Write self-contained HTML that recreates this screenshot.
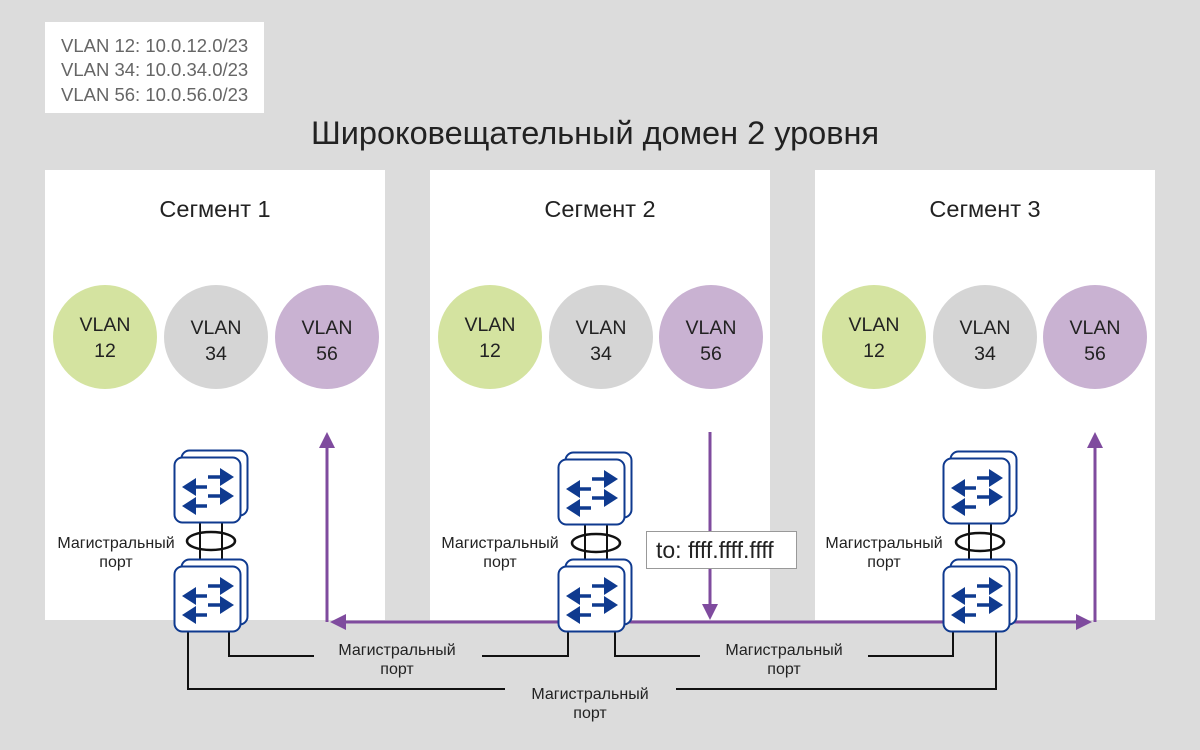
<!DOCTYPE html>
<html><head><meta charset="utf-8"><style>
html,body{margin:0;padding:0;background:#dcdcdc}
svg{display:block}
text{font-family:"Liberation Sans",sans-serif}
</style></head><body>
<svg width="1200" height="750" viewBox="0 0 1200 750" xmlns="http://www.w3.org/2000/svg">
<defs>
<g id="sq">
 <rect x="0.5" y="0.5" width="66" height="65" rx="8" fill="#fff" stroke="#0f3a8f" stroke-width="2"/>
 <g fill="#0f3a8f" stroke="#0f3a8f">
  <line x1="34" y1="20" x2="48" y2="20" stroke-width="3.5"/><polygon points="46,11 60,20 46,29" stroke="none"/>
  <line x1="34" y1="39" x2="48" y2="39" stroke-width="3.5"/><polygon points="46,30 60,39 46,48" stroke="none"/>
  <line x1="20" y1="30" x2="33" y2="30" stroke-width="3.5"/><polygon points="22,21 8,30 22,39" stroke="none"/>
  <line x1="20" y1="49" x2="33" y2="49" stroke-width="3.5"/><polygon points="22,40 8,49 22,58" stroke="none"/>
 </g>
</g>
<g id="sw">
 <rect x="7.5" y="-6.5" width="66" height="65" rx="8" fill="#fff" stroke="#0f3a8f" stroke-width="2"/>
 <use href="#sq"/>
</g>
</defs>
<rect width="1200" height="750" fill="#dcdcdc"/>
<rect x="45" y="22" width="219" height="91" fill="#fff"/>
<g font-size="18.5" fill="#666">
<text x="61" y="52">VLAN 12: 10.0.12.0/23</text>
<text x="61" y="76">VLAN 34: 10.0.34.0/23</text>
<text x="61" y="101">VLAN 56: 10.0.56.0/23</text>
</g>
<text x="595" y="144" font-size="32.5" text-anchor="middle" fill="#222">Широковещательный домен 2 уровня</text>

<rect x="45" y="170" width="340" height="450" fill="#fff"/>
<rect x="430" y="170" width="340" height="450" fill="#fff"/>
<rect x="815" y="170" width="340" height="450" fill="#fff"/>
<g font-size="23.5" text-anchor="middle" fill="#222">
<text x="215" y="217">Сегмент 1</text>
<text x="600" y="217">Сегмент 2</text>
<text x="985" y="217">Сегмент 3</text>
</g>

<g font-size="19.5" text-anchor="middle" fill="#222">
<g>
<circle cx="105" cy="337" r="52" fill="#d4e3a0"/><text x="105" y="331">VLAN</text><text x="105" y="357">12</text>
<circle cx="216" cy="337" r="52" fill="#d5d5d5"/><text x="216" y="334">VLAN</text><text x="216" y="360">34</text>
<circle cx="327" cy="337" r="52" fill="#c9b2d2"/><text x="327" y="334">VLAN</text><text x="327" y="360">56</text>
</g>
<g>
<circle cx="490" cy="337" r="52" fill="#d4e3a0"/><text x="490" y="331">VLAN</text><text x="490" y="357">12</text>
<circle cx="601" cy="337" r="52" fill="#d5d5d5"/><text x="601" y="334">VLAN</text><text x="601" y="360">34</text>
<circle cx="711" cy="337" r="52" fill="#c9b2d2"/><text x="711" y="334">VLAN</text><text x="711" y="360">56</text>
</g>
<g>
<circle cx="874" cy="337" r="52" fill="#d4e3a0"/><text x="874" y="331">VLAN</text><text x="874" y="357">12</text>
<circle cx="985" cy="337" r="52" fill="#d5d5d5"/><text x="985" y="334">VLAN</text><text x="985" y="360">34</text>
<circle cx="1095" cy="337" r="52" fill="#c9b2d2"/><text x="1095" y="334">VLAN</text><text x="1095" y="360">56</text>
</g>
</g>

<g stroke="#111" stroke-width="2" fill="none">
<polyline points="229,632 229,656 314,656"/>
<polyline points="482,656 568,656 568,632"/>
<polyline points="615,632 615,656 700,656"/>
<polyline points="868,656 953,656 953,632"/>
<polyline points="188,632 188,689 505,689"/>
<polyline points="676,689 996,689 996,632"/>
<line x1="200" y1="520" x2="200" y2="570"/><line x1="222" y1="520" x2="222" y2="570"/>
<line x1="585" y1="522" x2="585" y2="570"/><line x1="607" y1="522" x2="607" y2="570"/>
<line x1="969" y1="522" x2="969" y2="570"/><line x1="991" y1="522" x2="991" y2="570"/>
<ellipse cx="211" cy="541" rx="24" ry="9" stroke-width="2.5"/>
<ellipse cx="596" cy="543" rx="24" ry="9" stroke-width="2.5"/>
<ellipse cx="980" cy="542" rx="24" ry="9" stroke-width="2.5"/>
</g>

<g stroke="#7f4b9e" stroke-width="3" fill="#7f4b9e">
<line x1="340" y1="622" x2="1080" y2="622"/>
<polygon points="330,622 346,614 346,630" stroke="none"/>
<polygon points="1092,622 1076,614 1076,630" stroke="none"/>
<line x1="327" y1="622" x2="327" y2="445"/>
<polygon points="327,432 319,448 335,448" stroke="none"/>
<line x1="1095" y1="622" x2="1095" y2="445"/>
<polygon points="1095,432 1087,448 1103,448" stroke="none"/>
<line x1="710" y1="432" x2="710" y2="608"/>
<polygon points="710,620 702,604 718,604" stroke="none"/>
</g>

<use href="#sw" x="174" y="457"/>
<use href="#sw" x="174" y="566"/>
<use href="#sw" x="558" y="459"/>
<use href="#sw" x="558" y="566"/>
<use href="#sw" x="943" y="458"/>
<use href="#sw" x="943" y="566"/>

<rect x="646.5" y="531.5" width="150" height="37" fill="#fff" stroke="#999" stroke-width="1"/>
<text x="656" y="558" font-size="23" fill="#222">to: ffff.ffff.ffff</text>

<g font-size="16" text-anchor="middle" fill="#222">
<text x="116" y="548">Магистральный</text><text x="116" y="567">порт</text>
<text x="500" y="548">Магистральный</text><text x="500" y="567">порт</text>
<text x="884" y="548">Магистральный</text><text x="884" y="567">порт</text>
<text x="397" y="655">Магистральный</text><text x="397" y="674">порт</text>
<text x="784" y="655">Магистральный</text><text x="784" y="674">порт</text>
<text x="590" y="699">Магистральный</text><text x="590" y="718">порт</text>
</g>
</svg>
</body></html>
